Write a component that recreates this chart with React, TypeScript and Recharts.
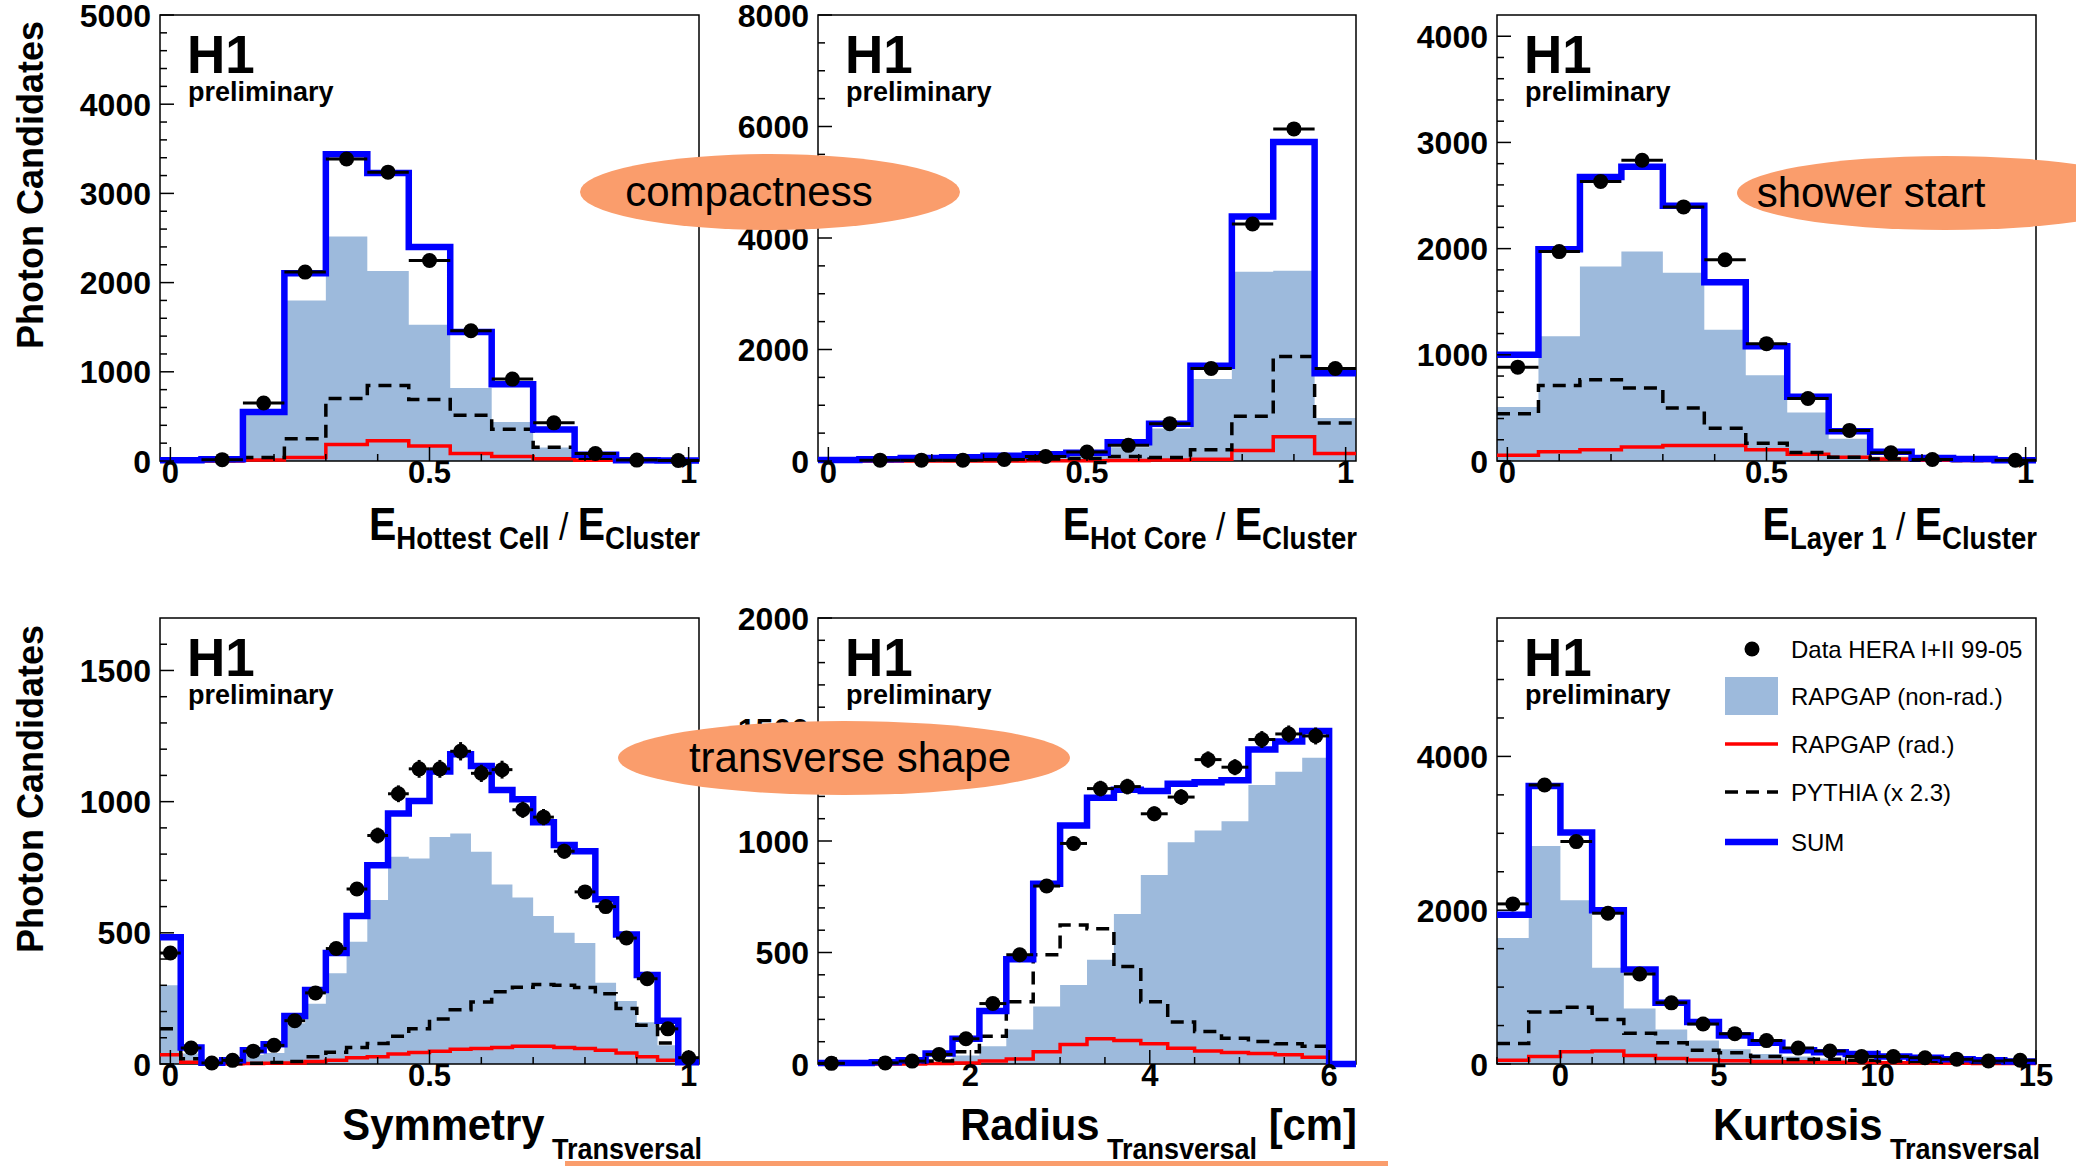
import React from 'react';
import { ComposedChart, Area, Line, Scatter, XAxis, YAxis, ErrorBar, ReferenceArea } from 'recharts';

const FONT = '"Liberation Sans", Arial, Helvetica, sans-serif';
const FILL = '#9DBADC';
const BLUE = '#0000FF';
const RED = '#FF0000';
const ORANGE = '#FA9D6C';

// ---------- Panel 1: E_Hottest Cell / E_Cluster (13 bins from -0.02, width 0.08)
const hcNonRad = [5, 10, 520, 1800, 2517, 2130, 1527, 818, 436, 150, 40, 5, 3];
const hcRad = [0, 0, 10, 40, 185, 227, 168, 84, 50, 25, 8, 2, 0];
const hcPythia = [0, 5, 40, 250, 700, 847, 690, 512, 357, 155, 30, 3, 2];
const hcSum = [8, 20, 550, 2105, 3440, 3230, 2400, 1447, 860, 352, 70, 8, 5];
const hcData = [null, 15, 650, 2118, 3385, 3238, 2248, 1460, 918, 428, 84, 10, 5];

// ---------- Panel 2: E_Hot Core / E_Cluster
const coreNonRad = [15, 25, 40, 50, 65, 80, 95, 245, 585, 1472, 3394, 3414, 770];
const coreRad = [0, 0, 0, 0, 2, 5, 5, 10, 20, 33, 190, 435, 134];
const corePythia = [5, 8, 13, 17, 27, 35, 47, 80, 65, 200, 803, 1874, 683];
const coreSum = [20, 33, 53, 67, 94, 120, 147, 335, 670, 1707, 4384, 5723, 1573];
const coreData = [null, 15, 15, 15, 27, 80, 160, 281, 670, 1660, 4250, 5957, 1660];

// ---------- Panel 3: E_Layer 1 / E_Cluster
const l1NonRad = [509, 1175, 1832, 1972, 1772, 1235, 807, 456, 210, 42, 12, 5, 3];
const l1Rad = [53, 88, 105, 133, 147, 147, 105, 63, 35, 18, 8, 5, 3];
const l1Pythia = [446, 712, 765, 688, 498, 309, 168, 81, 35, 18, 8, 5, 2];
const l1Sum = [1000, 1993, 2674, 2772, 2404, 1684, 1081, 604, 281, 88, 28, 18, 7];
const l1Data = [884, 1972, 2632, 2832, 2393, 1895, 1105, 589, 288, 77, 14, null, 7];

// ---------- Panel 4: Symmetry Transversal (26 bins from -0.02, width 0.04)
const symNonRad = [300, 40, 3, 8, 35, 42, 155, 230, 346, 466, 625, 790, 783, 865, 879, 809, 684, 635, 564, 500, 461, 310, 240, 159, 71, 5];
const symRad = [35, 7, 1, 1, 2, 3, 4, 10, 14, 24, 28, 38, 44, 49, 56, 59, 63, 68, 68, 63, 59, 52, 42, 28, 14, 4];
const symPythia = [134, 20, 0, 1, 3, 6, 10, 28, 45, 63, 78, 106, 134, 172, 207, 236, 275, 293, 303, 300, 292, 268, 212, 148, 80, 5];
const symSum = [483, 63, 5, 14, 52, 75, 183, 282, 423, 564, 758, 955, 1002, 1115, 1181, 1136, 1044, 1009, 921, 835, 811, 628, 494, 339, 165, 7];
const symData = [423, 61, 4, 14, 49, 71, 165, 271, 440, 667, 871, 1030, 1125, 1125, 1192, 1108, 1122, 969, 941, 811, 656, 600, 480, 325, 134, 24];
const symErr = [21, 8, 2, 4, 7, 8, 13, 16, 21, 26, 30, 32, 34, 34, 35, 33, 34, 31, 31, 28, 26, 25, 22, 18, 12, 5];

// ---------- Panel 5: Radius Transversal [cm] (20 bins from 0.3, width 0.3)
const radNonRad = [0, 0, 2, 4, 8, 38, 80, 155, 258, 354, 467, 673, 848, 994, 1047, 1089, 1251, 1310, 1373, 0];
const radRad = [0, 0, 0, 0, 2, 5, 13, 22, 55, 88, 113, 105, 91, 71, 58, 52, 47, 42, 30, 0];
const radPythia = [3, 3, 5, 10, 13, 55, 125, 279, 490, 623, 607, 437, 279, 188, 146, 116, 101, 91, 80, 0];
const radSum = [5, 5, 8, 17, 47, 113, 238, 470, 808, 1069, 1194, 1230, 1224, 1257, 1264, 1272, 1410, 1446, 1493, 0];
const radData = [3, null, 5, 13, 43, 113, 271, 490, 798, 989, 1235, 1244, 1122, 1197, 1365, 1331, 1455, 1480, 1471, null];
const radErr = [2, 0, 2, 4, 7, 11, 17, 22, 28, 31, 35, 35, 33, 35, 37, 36, 38, 38, 38, 0];

// ---------- Panel 6: Kurtosis Transversal (17 bins from -2, width 1)
const kurNonRad = [1639, 2834, 2130, 1253, 723, 448, 304, 193, 130, 96, 72, 58, 43, 30, 20, 15, 10];
const kurRad = [48, 96, 159, 169, 111, 72, 53, 43, 34, 29, 24, 20, 15, 12, 10, 8, 6];
const kurPythia = [265, 675, 737, 578, 400, 275, 178, 145, 96, 58, 63, 48, 39, 34, 24, 19, 14];
const kurSum = [1942, 3614, 3012, 2000, 1229, 795, 545, 371, 275, 178, 154, 130, 96, 82, 63, 48, 34];
const kurData = [2082, 3629, 2892, 1961, 1171, 795, 520, 395, 304, 207, 169, 96, 96, 82, 63, 39, 48];

// tick labels
const unitMajor = [0, 0.5, 1];
const radMajor = [2, 4, 6];
const kurMajor = [0, 5, 10, 15];
const legendLabels = ['Data HERA I+II 99-05', 'RAPGAP (non-rad.)', 'RAPGAP (rad.)', 'PYTHIA (x 2.3)', 'SUM'];

function range(a: number, b: number, s: number) {
  const out: number[] = [];
  const n = Math.round((b - a) / s);
  for (let i = 0; i <= n; i++) out.push(Math.round((a + i * s) * 1e6) / 1e6);
  return out;
}

type Spec = {
  L: number; T: number; R: number; B: number;
  x0: number; bw: number; xDomain: [number, number];
  xMajor: number[]; xTicks: number[];
  yMax: number; yMajor: number[]; yTicks: number[];
  nonRad: number[]; rad: number[]; pythia: number[]; sum: number[];
  data: (number | null)[]; err?: number[];
};

const TOP_T = 15, TOP_B = 461, BOT_T = 618, BOT_B = 1064;
const COLS = [[160, 699], [818, 1356], [1497, 2036]];

const specs: Spec[] = [
  { L: COLS[0][0], R: COLS[0][1], T: TOP_T, B: TOP_B, x0: -0.02, bw: 0.08, xDomain: [-0.02, 1.02], xMajor: unitMajor, xTicks: range(0, 1, 0.1),
    yMax: 5000, yMajor: [0, 1000, 2000, 3000, 4000, 5000], yTicks: range(0, 5000, 200),
    nonRad: hcNonRad, rad: hcRad, pythia: hcPythia, sum: hcSum, data: hcData },
  { L: COLS[1][0], R: COLS[1][1], T: TOP_T, B: TOP_B, x0: -0.02, bw: 0.08, xDomain: [-0.02, 1.02], xMajor: unitMajor, xTicks: range(0, 1, 0.1),
    yMax: 8000, yMajor: [0, 2000, 4000, 6000, 8000], yTicks: range(0, 8000, 500),
    nonRad: coreNonRad, rad: coreRad, pythia: corePythia, sum: coreSum, data: coreData },
  { L: COLS[2][0], R: COLS[2][1], T: TOP_T, B: TOP_B, x0: -0.02, bw: 0.08, xDomain: [-0.02, 1.02], xMajor: unitMajor, xTicks: range(0, 1, 0.1),
    yMax: 4200, yMajor: [0, 1000, 2000, 3000, 4000], yTicks: range(0, 4000, 200),
    nonRad: l1NonRad, rad: l1Rad, pythia: l1Pythia, sum: l1Sum, data: l1Data },
  { L: COLS[0][0], R: COLS[0][1], T: BOT_T, B: BOT_B, x0: -0.02, bw: 0.04, xDomain: [-0.02, 1.02], xMajor: unitMajor, xTicks: range(0, 1, 0.1),
    yMax: 1700, yMajor: [0, 500, 1000, 1500], yTicks: range(0, 1600, 100),
    nonRad: symNonRad, rad: symRad, pythia: symPythia, sum: symSum, data: symData, err: symErr },
  { L: COLS[1][0], R: COLS[1][1], T: BOT_T, B: BOT_B, x0: 0.3, bw: 0.3, xDomain: [0.3, 6.3], xMajor: radMajor, xTicks: range(0.5, 6, 0.5),
    yMax: 2000, yMajor: [0, 500, 1000, 1500, 2000], yTicks: range(0, 2000, 100),
    nonRad: radNonRad, rad: radRad, pythia: radPythia, sum: radSum, data: radData, err: radErr },
  { L: COLS[2][0], R: COLS[2][1], T: BOT_T, B: BOT_B, x0: -2, bw: 1, xDomain: [-2, 15], xMajor: kurMajor, xTicks: range(-2, 15, 1),
    yMax: 5800, yMajor: [0, 2000, 4000], yTicks: range(0, 5500, 500),
    nonRad: kurNonRad, rad: kurRad, pythia: kurPythia, sum: kurSum, data: kurData },
];

const YW = 130, XH = 50, MT = 30, MR = 40;
const YM = 9, XM = 2;

function makeYTick(majors: number[]) {
  return (p: any) => {
    const v = p.payload.value;
    const major = majors.includes(v);
    const x0 = p.x + YM;
    return (
      <g>
        <line x1={x0} x2={x0 + (major ? 14 : 7)} y1={p.y} y2={p.y} stroke="#000" strokeWidth={1.5} />
        {major && (
          <text x={p.x} y={p.y} dy="0.36em" textAnchor="end" fontSize={32} fontWeight="bold" fontFamily={FONT} fill="#000">
            {String(v)}
          </text>
        )}
      </g>
    );
  };
}

function makeXTick(majors: number[]) {
  return (p: any) => {
    const v = p.payload.value;
    const major = majors.includes(v);
    const y0 = p.y - XM;
    return (
      <g>
        <line x1={p.x} x2={p.x} y1={y0} y2={y0 - (major ? 14 : 7)} stroke="#000" strokeWidth={1.5} />
        {major && (
          <text x={p.x} y={p.y} dy="0.66em" textAnchor="middle" fontSize={31} fontWeight="bold" fontFamily={FONT} fill="#000">
            {String(v)}
          </text>
        )}
      </g>
    );
  };
}

const Dot = (p: any) => <circle cx={p.cx} cy={p.cy} r={7.5} fill="#000" />;

function Panel({ s }: { s: Spec }) {
  const n = s.sum.length;
  const steps: any[] = [];
  for (let i = 0; i <= n; i++) {
    const k = Math.min(i, n - 1);
    steps.push({ x: Math.round((s.x0 + s.bw * i) * 1e6) / 1e6, nonRad: s.nonRad[k], rad: s.rad[k], pythia: s.pythia[k], sum: s.sum[k] });
  }
  const pts: any[] = [];
  s.data.forEach((v, i) => {
    if (v === null) return;
    pts.push({ x: s.x0 + s.bw * (i + 0.5), y: v, ex: s.bw / 2, ey: s.err ? s.err[i] : 0 });
  });
  const width = s.R - s.L + YW + MR;
  const height = s.B - s.T + XH + MT;
  return (
    <div style={{ position: 'absolute', left: s.L - YW, top: s.T - MT }}>
      <ComposedChart width={width} height={height} data={steps} margin={{ top: MT, right: MR, bottom: 0, left: 0 }}>
        <XAxis type="number" dataKey="x" domain={s.xDomain} ticks={s.xTicks} interval={0} tickSize={0} tickMargin={XM}
          axisLine={false} tickLine={false} height={XH} tick={makeXTick(s.xMajor)} />
        <YAxis type="number" domain={[0, s.yMax]} ticks={s.yTicks} interval={0} tickSize={0} tickMargin={YM}
          axisLine={false} tickLine={false} width={YW} tick={makeYTick(s.yMajor)} />
        <Area type="stepAfter" dataKey="nonRad" stroke="none" fill={FILL} fillOpacity={1} isAnimationActive={false} />
        <Line type="stepAfter" dataKey="rad" stroke={RED} strokeWidth={3.5} dot={false} isAnimationActive={false} />
        <Line type="stepAfter" dataKey="pythia" stroke="#000" strokeWidth={3.5} strokeDasharray="13 8" dot={false} isAnimationActive={false} />
        <Line type="stepAfter" dataKey="sum" stroke={BLUE} strokeWidth={6.5} dot={false} isAnimationActive={false} />
        <Scatter data={pts} dataKey="y" shape={Dot} isAnimationActive={false}>
          <ErrorBar dataKey="ex" direction="x" width={0} stroke="#000" strokeWidth={3} />
          {s.err ? <ErrorBar dataKey="ey" direction="y" width={0} stroke="#000" strokeWidth={3} /> : null}
        </Scatter>
        <ReferenceArea x1={s.xDomain[0]} x2={s.xDomain[1]} y1={0} y2={s.yMax} fill="none" stroke="#000" strokeWidth={1.5} />
      </ComposedChart>
    </div>
  );
}

function Overlay() {
  const bold = { fontFamily: FONT, fontWeight: 'bold' as const, fill: '#000' };
  const reg = { fontFamily: FONT, fill: '#000' };
  const lx = 1725, lx2 = 1778, tx = 1791;
  const rows = [649, 696, 744, 792, 842];
  return (
    <svg width={2076} height={1166} style={{ position: 'absolute', left: 0, top: 0, pointerEvents: 'none' }}>
      {/* y axis titles */}
      <text transform="translate(43,185) rotate(-90)" textAnchor="middle" fontSize={36} {...bold}>Photon Candidates</text>
      <text transform="translate(43,789) rotate(-90)" textAnchor="middle" fontSize={36} {...bold}>Photon Candidates</text>

      {/* H1 preliminary */}
      {specs.map((s, i) => (
        <g key={i}>
          <text x={s.L + 27} y={s.T + 58} fontSize={53} {...bold}>H1</text>
          <text x={s.L + 28} y={s.T + 86} fontSize={27} {...bold}>preliminary</text>
        </g>
      ))}

      {/* x axis titles */}
      <text transform="translate(700,540) scale(0.89,1)" textAnchor="end" {...bold}>
        <tspan fontSize={46}>E</tspan><tspan fontSize={31} dy={9}>Hottest Cell</tspan>
        <tspan fontSize={38} dy={-9} fontWeight="normal">{' / '}</tspan><tspan fontSize={46}>E</tspan><tspan fontSize={31} dy={9}>Cluster</tspan>
      </text>
      <text transform="translate(1357,540) scale(0.89,1)" textAnchor="end" {...bold}>
        <tspan fontSize={46}>E</tspan><tspan fontSize={31} dy={9}>Hot Core</tspan>
        <tspan fontSize={38} dy={-9} fontWeight="normal">{' / '}</tspan><tspan fontSize={46}>E</tspan><tspan fontSize={31} dy={9}>Cluster</tspan>
      </text>
      <text transform="translate(2037,540) scale(0.89,1)" textAnchor="end" {...bold}>
        <tspan fontSize={46}>E</tspan><tspan fontSize={31} dy={9}>Layer 1</tspan>
        <tspan fontSize={38} dy={-9} fontWeight="normal">{' / '}</tspan><tspan fontSize={46}>E</tspan><tspan fontSize={31} dy={9}>Cluster</tspan>
      </text>
      <text transform="translate(702,1140) scale(0.93,1)" textAnchor="end" {...bold}>
        <tspan fontSize={45}>Symmetry</tspan><tspan fontSize={29} dy={19}>{' Transversal'}</tspan>
      </text>
      <text transform="translate(1357,1140) scale(0.93,1)" textAnchor="end" {...bold}>
        <tspan fontSize={45}>Radius</tspan><tspan fontSize={29} dy={19}>{' Transversal'}</tspan><tspan fontSize={45} dy={-19}>{' [cm]'}</tspan>
      </text>
      <text transform="translate(2040,1140) scale(0.93,1)" textAnchor="end" {...bold}>
        <tspan fontSize={45}>Kurtosis</tspan><tspan fontSize={29} dy={19}>{' Transversal'}</tspan>
      </text>

      {/* legend */}
      <circle cx={1752} cy={rows[0]} r={7.5} fill="#000" />
      <rect x={lx} y={rows[1] - 19} width={lx2 - lx} height={38} fill={FILL} />
      <line x1={lx} x2={lx2} y1={rows[2]} y2={rows[2]} stroke={RED} strokeWidth={3.5} />
      <line x1={lx} x2={lx2} y1={rows[3]} y2={rows[3]} stroke="#000" strokeWidth={3.5} strokeDasharray="13 8" />
      <line x1={lx} x2={lx2} y1={rows[4]} y2={rows[4]} stroke={BLUE} strokeWidth={6.5} />
      {legendLabels.map((t, i) => (
        <text key={t} x={tx} y={rows[i]} dy="0.36em" fontSize={24} {...reg}>{t}</text>
      ))}

      {/* annotation ellipses */}
      <ellipse cx={770} cy={192} rx={190} ry={38} fill={ORANGE} />
      <text x={749} y={206} textAnchor="middle" fontSize={42} {...reg}>compactness</text>
      <ellipse cx={1945} cy={193} rx={208} ry={37} fill={ORANGE} />
      <text x={1871} y={207} textAnchor="middle" fontSize={42} {...reg}>shower start</text>
      <ellipse cx={844} cy={758} rx={226} ry={37} fill={ORANGE} />
      <text x={850} y={772} textAnchor="middle" fontSize={42} {...reg}>transverse shape</text>
      <rect x={565} y={1161} width={823} height={5} fill={ORANGE} />
    </svg>
  );
}

export default function App() {
  return (
    <div style={{ position: 'absolute', left: 0, top: 0, width: 2076, height: 1166, overflow: 'hidden', background: '#fff', fontFamily: FONT }}>
      {specs.map((s, i) => <Panel key={i} s={s} />)}
      <Overlay />
    </div>
  );
}
